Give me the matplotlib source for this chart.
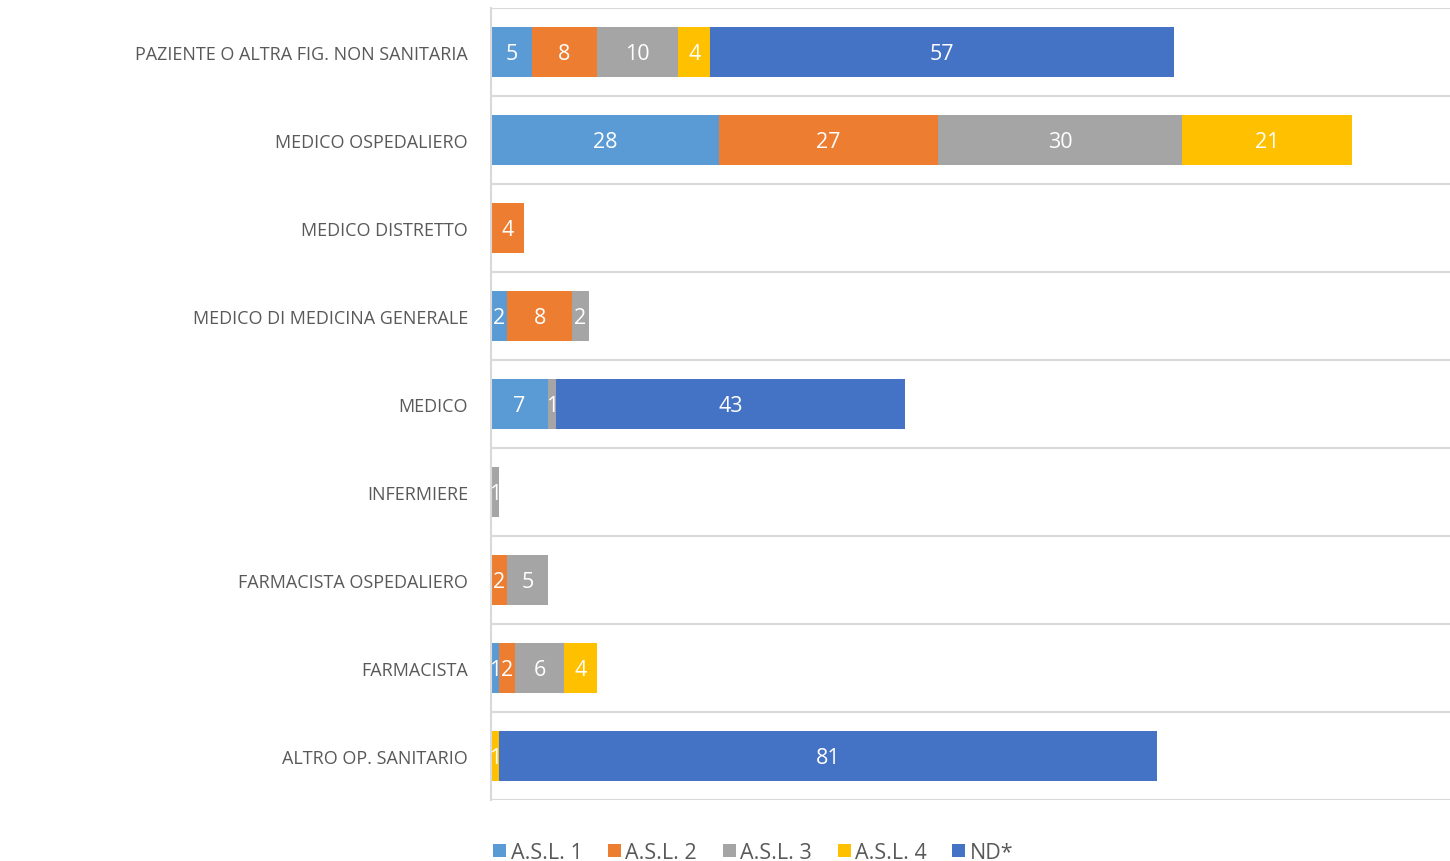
import matplotlib
matplotlib.use("Agg")
import matplotlib.pyplot as plt
import numpy as np

categories = ["PAZIENTE O ALTRA FIG. NON SANITARIA", "MEDICO OSPEDALIERO", "MEDICO DISTRETTO",
              "MEDICO DI MEDICINA GENERALE", "MEDICO", "INFERMIERE",
              "FARMACISTA OSPEDALIERO", "FARMACISTA", "ALTRO OP. SANITARIO"]
series_names = ["A.S.L. 1", "A.S.L. 2", "A.S.L. 3", "A.S.L. 4", "ND*"]
asl1 = [5, 28, 0, 2, 7, 0, 0, 1, 0]
asl2 = [8, 27, 4, 8, 0, 0, 2, 2, 0]
asl3 = [10, 30, 0, 2, 1, 1, 5, 6, 0]
asl4 = [4, 21, 0, 0, 0, 0, 0, 4, 1]
nd = [57, 0, 0, 0, 43, 0, 0, 0, 81]
colors = ["#5B9BD5", "#ED7D31", "#A5A5A5", "#FFC000", "#4472C4"]

plt.rcParams['font.family'] = ['Open Sans', 'DejaVu Sans']

fig = plt.figure(figsize=(14.5, 8.62), dpi=100)
ax = fig.add_axes([491/1450, 1-801/862, 1-491/1450, 792/862])

y = np.arange(len(categories))
left = np.zeros(len(categories))
for name, vals, c in zip(series_names, [asl1, asl2, asl3, asl4, nd], colors):
    vals = np.array(vals, dtype=float)
    ax.barh(y, vals, left=left, height=0.557, color=c, label=name, edgecolor='none')
    for yi, (l, v) in enumerate(zip(left, vals)):
        if v > 0:
            ax.text(l + v/2, yi + 0.015, f"{int(v)}", ha='center', va='center',
                    color='white', fontsize=15.5)
    left += vals

ax.set_xlim(0, 118)
ax.set_ylim(len(categories) - 0.5, -0.5)
for b in np.arange(-0.5, len(categories), 1.0):
    ax.axhline(b, color='#D9D9D9', lw=1.5, zorder=0)
for s in ['top', 'right', 'bottom']:
    ax.spines[s].set_visible(False)
ax.spines['left'].set_color('#D9D9D9')
ax.spines['left'].set_linewidth(1.5)
ax.set_xticks([])
ax.set_yticks(y)
ax.set_yticklabels(categories, fontsize=13, color='#595959')
ax.tick_params(axis='y', length=0, pad=16.5)

leg = fig.legend(loc='lower left', bbox_to_anchor=(474/1450, -0.025), ncol=5, frameon=False,
                 fontsize=15.5, handlelength=0.6, handleheight=0.6, handletextpad=0.2,
                 columnspacing=1.2)
for t in leg.get_texts():
    t.set_color('#595959')

fig.savefig("out.png", dpi=100)
